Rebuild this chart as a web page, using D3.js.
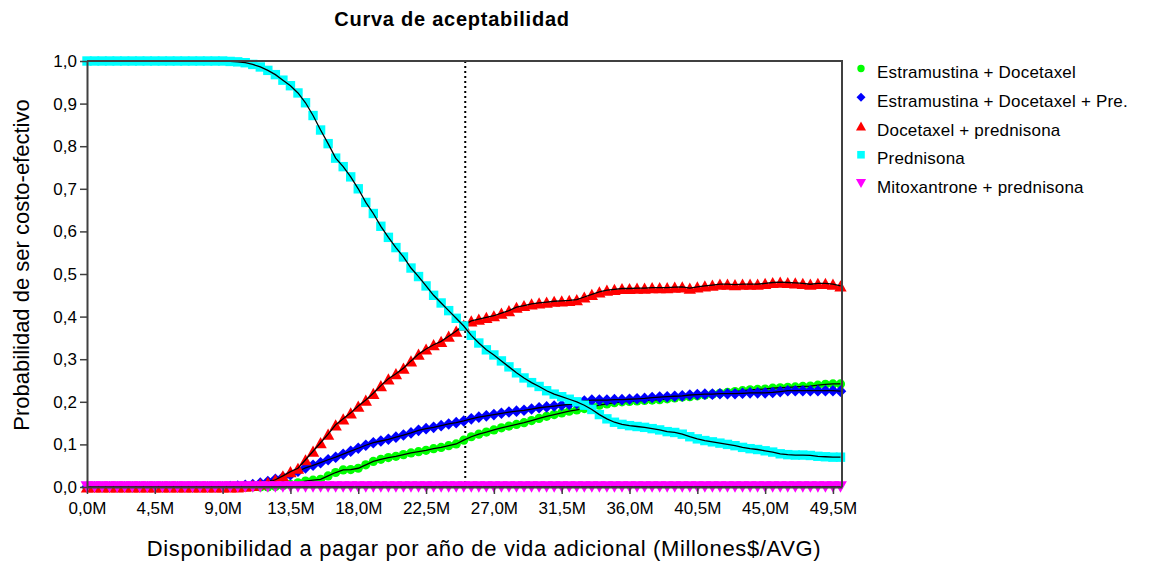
<!DOCTYPE html>
<html>
<head>
<meta charset="utf-8">
<script src="https://cdn.jsdelivr.net/npm/d3@7"></script>
<style>
  body { margin: 0; background: #fff; }
  svg { display: block; }
  text { font-family: "Liberation Sans", Arial, sans-serif; fill: #000; }
</style>
</head>
<body>
<svg id="chart" width="1162" height="561"></svg>
<script>
// Willingness to pay, millions of pesos per additional life-year
const wtp = [
  0, 0.5, 1, 1.5, 2, 2.5, 3, 3.5, 4, 4.5,
  5, 5.5, 6, 6.5, 7, 7.5, 8, 8.5, 9, 9.5,
  10, 10.5, 11, 11.5, 12, 12.5, 13, 13.5, 14, 14.5,
  15, 15.5, 16, 16.5, 17, 17.5, 18, 18.5, 19, 19.5,
  20, 20.5, 21, 21.5, 22, 22.5, 23, 23.5, 24, 24.5,
  25, 25.5, 26, 26.5, 27, 27.5, 28, 28.5, 29, 29.5,
  30, 30.5, 31, 31.5, 32, 32.5, 33, 33.5, 34, 34.5,
  35, 35.5, 36, 36.5, 37, 37.5, 38, 38.5, 39, 39.5,
  40, 40.5, 41, 41.5, 42, 42.5, 43, 43.5, 44, 44.5,
  45, 45.5, 46, 46.5, 47, 47.5, 48, 48.5, 49, 49.5,
  50
];

// Probability of being cost-effective, one array per strategy
const estramustinaDocetaxel = [
  0, 0, 0, 0, 0, 0, 0, 0, 0, 0,
  0, 0, 0, 0, 0, 0, 0, 0, 0, 0,
  0, 0, 0, 0, 0, 0.001, 0.003, 0.006, 0.010, 0.014,
  0.016, 0.018, 0.026, 0.034, 0.040, 0.041, 0.044, 0.052, 0.060, 0.065,
  0.069, 0.072, 0.076, 0.080, 0.083, 0.086, 0.090, 0.093, 0.097, 0.101,
  0.110, 0.118, 0.124, 0.129, 0.134, 0.139, 0.143, 0.147, 0.151, 0.156,
  0.161, 0.166, 0.170, 0.174, 0.178, 0.181, 0.184, 0.188, 0.192, 0.195,
  0.198, 0.200, 0.201, 0.202, 0.203, 0.204, 0.205, 0.207, 0.209, 0.211,
  0.212, 0.214, 0.216, 0.218, 0.220, 0.222, 0.224, 0.226, 0.228, 0.229,
  0.230, 0.232, 0.233, 0.234, 0.235, 0.236, 0.237, 0.239, 0.241, 0.242,
  0.242
];

const estramustinaDocetaxelPre = [
  0, 0, 0, 0, 0, 0, 0, 0, 0, 0,
  0, 0, 0, 0, 0, 0, 0, 0, 0, 0.001,
  0.002, 0.004, 0.006, 0.009, 0.013, 0.018, 0.023, 0.029, 0.037, 0.045,
  0.051, 0.057, 0.064, 0.070, 0.077, 0.084, 0.091, 0.098, 0.104, 0.108,
  0.112, 0.117, 0.122, 0.127, 0.133, 0.137, 0.140, 0.144, 0.148, 0.151,
  0.155, 0.160, 0.164, 0.167, 0.170, 0.173, 0.176, 0.178, 0.180, 0.183,
  0.186, 0.188, 0.190, 0.192, 0.194, 0.196, 0.202, 0.204, 0.204, 0.204,
  0.205, 0.205, 0.206, 0.207, 0.208, 0.210, 0.211, 0.212, 0.213, 0.214,
  0.216, 0.217, 0.218, 0.218, 0.219, 0.219, 0.219, 0.220, 0.221, 0.221,
  0.221, 0.222, 0.224, 0.226, 0.226, 0.226, 0.226, 0.226, 0.226, 0.226,
  0.225
];

const docetaxelPrednisona = [
  0, 0, 0, 0, 0, 0, 0, 0, 0, 0,
  0, 0, 0, 0, 0, 0, 0, 0, 0, 0,
  0, 0.002, 0.004, 0.007, 0.011, 0.017, 0.026, 0.036, 0.044, 0.064,
  0.084, 0.104, 0.124, 0.146, 0.160, 0.174, 0.190, 0.204, 0.220, 0.238,
  0.254, 0.266, 0.279, 0.296, 0.312, 0.324, 0.334, 0.342, 0.354, 0.366,
  0.380, 0.390, 0.394, 0.398, 0.402, 0.408, 0.414, 0.422, 0.426, 0.430,
  0.432, 0.434, 0.436, 0.437, 0.438, 0.440, 0.446, 0.452, 0.458, 0.462,
  0.464, 0.466, 0.466, 0.467, 0.467, 0.468, 0.468, 0.468, 0.469, 0.470,
  0.467, 0.470, 0.472, 0.474, 0.476, 0.476, 0.475, 0.476, 0.476, 0.476,
  0.478, 0.480, 0.481, 0.480, 0.479, 0.478, 0.476, 0.478, 0.478, 0.476,
  0.472
];

const prednisona = [
  1, 1, 1, 1, 1, 1, 1, 1, 1, 1,
  1, 1, 1, 1, 1, 1, 1, 1, 1, 0.999,
  0.998, 0.996, 0.992, 0.986, 0.978, 0.968, 0.955, 0.942, 0.925, 0.902,
  0.872, 0.838, 0.806, 0.772, 0.752, 0.728, 0.700, 0.668, 0.642, 0.612,
  0.586, 0.562, 0.540, 0.514, 0.494, 0.472, 0.450, 0.432, 0.414, 0.396,
  0.378, 0.356, 0.338, 0.322, 0.310, 0.296, 0.282, 0.268, 0.256, 0.245,
  0.236, 0.226, 0.218, 0.212, 0.206, 0.200, 0.192, 0.182, 0.170, 0.160,
  0.152, 0.147, 0.144, 0.142, 0.140, 0.137, 0.134, 0.130, 0.128, 0.124,
  0.118, 0.113, 0.109, 0.106, 0.103, 0.100, 0.097, 0.093, 0.090, 0.088,
  0.085, 0.082, 0.078, 0.076, 0.075, 0.075, 0.074, 0.072, 0.071, 0.070,
  0.070
];

const mitoxantronePrednisona = [
  0, 0, 0, 0, 0, 0, 0, 0, 0, 0,
  0, 0, 0, 0, 0, 0, 0, 0, 0, 0,
  0, 0, 0, 0, 0, 0, 0, 0, 0, 0,
  0, 0, 0, 0, 0, 0, 0, 0, 0, 0,
  0, 0, 0, 0, 0, 0, 0, 0, 0, 0,
  0, 0, 0, 0, 0, 0, 0, 0, 0, 0,
  0, 0, 0, 0, 0, 0, 0, 0, 0, 0,
  0, 0, 0, 0, 0, 0, 0, 0, 0, 0,
  0, 0, 0, 0, 0, 0, 0, 0, 0, 0,
  0, 0, 0, 0, 0, 0, 0, 0, 0, 0,
  0
];

const seriesNames = [
  "Estramustina + Docetaxel",
  "Estramustina + Docetaxel + Pre.",
  "Docetaxel + prednisona",
  "Prednisona",
  "Mitoxantrone + prednisona"
];

const xTicks = [0, 4.5, 9, 13.5, 18, 22.5, 27, 31.5, 36, 40.5, 45, 49.5];
const xTickLabels = ["0,0M", "4,5M", "9,0M", "13,5M", "18,0M", "22,5M", "27,0M", "31,5M", "36,0M", "40,5M", "45,0M", "49,5M"];
const yTicks = [0, 0.1, 0.2, 0.3, 0.4, 0.5, 0.6, 0.7, 0.8, 0.9, 1.0];
const yTickLabels = ["0,0", "0,1", "0,2", "0,3", "0,4", "0,5", "0,6", "0,7", "0,8", "0,9", "1,0"];

// Reference willingness-to-pay threshold (dotted vertical line)
const threshold = 25.1;

const titleText = "Curva de aceptabilidad";
const xTitle = "Disponibilidad a pagar por año de vida adicional (Millones$/AVG)";
const yTitle = "Probabilidad de ser costo-efectivo";

// ---- marker shapes (centred on 0,0) ----
const shapePath = {
  circle: s => `M${-s},0a${s},${s} 0 1,0 ${2 * s},0a${s},${s} 0 1,0 ${-2 * s},0Z`,
  diamond: s => `M0,${-s}L${s},0L0,${s}L${-s},0Z`,
  triangleUp: s => `M0,${-s}L${s * 1.1},${s}L${-s * 1.1},${s}Z`,
  square: s => `M${-s},${-s}H${s}V${s}H${-s}Z`,
  triangleDown: s => `M0,${s}L${s * 1.1},${-s}L${-s * 1.1},${-s}Z`
};

const series = [
  { name: seriesNames[0], values: estramustinaDocetaxel,    color: "#00ff00", shape: "circle",       size: 4.6, legendSize: 3.7 },
  { name: seriesNames[1], values: estramustinaDocetaxelPre, color: "#0000ff", shape: "diamond",      size: 5.8, legendSize: 4.5 },
  { name: seriesNames[2], values: docetaxelPrednisona,      color: "#ff0000", shape: "triangleUp",   size: 5.6, legendSize: 4.6 },
  { name: seriesNames[3], values: prednisona,               color: "#00ffff", shape: "square",       size: 4.7, legendSize: 3.8 },
  { name: seriesNames[4], values: mitoxantronePrednisona,   color: "#ff00ff", shape: "triangleDown", size: 5.8, legendSize: 4.6 }
];

const svg = d3.select("#chart");

const x = d3.scaleLinear().domain([0, 50.1]).range([87, 842]);
const y = d3.scaleLinear().domain([0, 1]).range([487, 61]);

// Title
svg.append("text")
  .attr("x", 452).attr("y", 26)
  .attr("text-anchor", "middle")
  .style("font-size", "20px").style("font-weight", "bold")
  .style("letter-spacing", "0.75px")
  .text(titleText);

// Threshold line
svg.append("line")
  .attr("x1", x(threshold)).attr("x2", x(threshold))
  .attr("y1", y(1)).attr("y2", y(0))
  .attr("stroke", "#000").attr("stroke-width", 2)
  .attr("stroke-dasharray", "2,3");

// Series: markers first, then the black connecting line on top
const line = d3.line().x((d, i) => x(wtp[i])).y(d => y(d));
const plot = svg.append("g");
series.forEach(s => {
  const g = plot.append("g");
  g.selectAll("path.mk")
    .data(s.values)
    .join("path")
    .attr("class", "mk")
    .attr("transform", (d, i) => `translate(${x(wtp[i])},${y(d)})`)
    .attr("d", shapePath[s.shape](s.size))
    .attr("fill", s.color);
  g.append("path")
    .datum(s.values)
    .attr("d", line)
    .attr("fill", "none")
    .attr("stroke", "#000")
    .attr("stroke-width", 1.3);
});

// Axes
const axisColor = "#404040";
const yAxis = svg.append("g")
  .attr("transform", `translate(${x(0)},0)`)
  .call(d3.axisLeft(y).tickValues(yTicks).tickFormat((d, i) => yTickLabels[i]).tickSize(7).tickPadding(3).tickSizeOuter(0));
const xAxis = svg.append("g")
  .attr("transform", `translate(0,${y(0)})`)
  .call(d3.axisBottom(x).tickValues(xTicks).tickFormat((d, i) => xTickLabels[i]).tickSize(7).tickPadding(8).tickSizeOuter(0));

[yAxis, xAxis].forEach(a => {
  a.select(".domain").attr("stroke", axisColor).attr("stroke-width", 2);
  a.selectAll(".tick line").attr("stroke", axisColor).attr("stroke-width", 1.5);
  a.selectAll(".tick text")
    .style("font-family", "'Liberation Sans', Arial, sans-serif")
    .style("font-size", "17px").attr("fill", "#000");
});

// Top and right frame
svg.append("path")
  .attr("d", `M${x(0)},${y(1)}H${x(50.1)}V${y(0)}`)
  .attr("fill", "none").attr("stroke", axisColor).attr("stroke-width", 2);

// Axis titles
svg.append("text")
  .attr("x", 484).attr("y", 556)
  .attr("text-anchor", "middle")
  .style("font-size", "22px")
  .style("letter-spacing", "0.65px")
  .text(xTitle);

svg.append("text")
  .attr("transform", "translate(29,265) rotate(-90)")
  .attr("text-anchor", "middle")
  .style("font-size", "22px")
  .text(yTitle);

// Legend
const legend = svg.append("g").attr("transform", "translate(861,68.5)");
series.forEach((s, i) => {
  const row = legend.append("g").attr("transform", `translate(0,${i * 28.75})`);
  row.append("path")
    .attr("d", shapePath[s.shape](s.legendSize))
    .attr("fill", s.color);
  row.append("text")
    .attr("x", 16).attr("y", 9.5)
    .style("font-size", "17px")
    .style("letter-spacing", "0.2px")
    .text(s.name);
});
</script>
</body>
</html>
